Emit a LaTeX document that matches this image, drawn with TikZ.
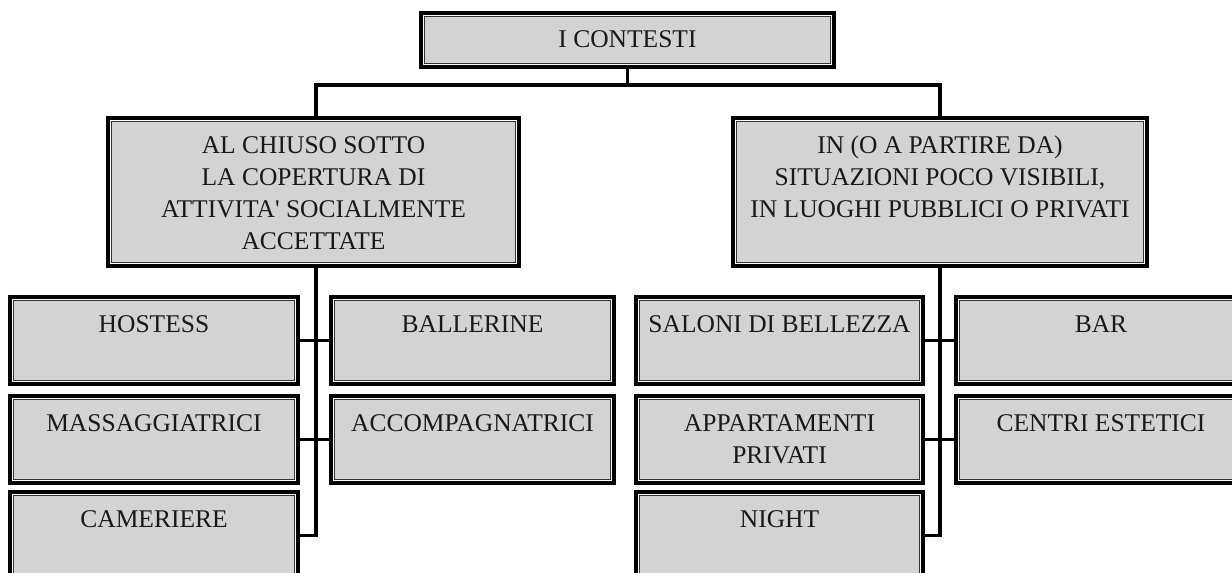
\documentclass[tikz,border=0pt]{standalone}
\usepackage{fontspec}
\setmainfont{Liberation Serif}
\definecolor{boxgray}{RGB}{211,211,211}
\newcommand{\bt}[3]{\parbox[c][#2][t]{#1}{\centering\rule{0pt}{17.5pt}#3\par}}
\tikzset{
  cbox/.style={draw=black, line width=1.75pt, fill=white, inner sep=0pt, outer sep=0pt,
    anchor=north west, font=\fontsize{12.75pt}{16pt}\selectfont, text=black!90,
    path picture={\draw[line width=0.5pt, draw=black!80, fill=boxgray]
      ([shift={(1.875pt,1.875pt)}]path picture bounding box.south west) rectangle
      ([shift={(-1.875pt,-1.875pt)}]path picture bounding box.north east);}},
  conn/.style={line width=1.6pt, line join=miter, draw=black}
}
\begin{document}
\begin{tikzpicture}[x=0.5pt, y=-0.5pt]
\useasboundingbox (0,0) rectangle (1232,573);
\clip (0,0) rectangle (1232,573);
% level 0
\node[cbox] (top) at (421,13) {\bt{206.5pt}{27pt}{I CONTESTI}};
% level 1
\node[cbox] (lmid) at (108,118) {\bt{205.5pt}{74pt}{AL CHIUSO SOTTO\\LA COPERTURA DI\\ATTIVITA\textquotesingle{} SOCIALMENTE\\ACCETTATE}};
\node[cbox] (rmid) at (733,118) {\bt{207pt}{74pt}{IN (O A PARTIRE DA)\\SITUAZIONI POCO VISIBILI,\\IN LUOGHI PUBBLICI O PRIVATI}};
% level 2 left
\node[cbox] (hostess) at (10,297) {\bt{144pt}{43.5pt}{HOSTESS}};
\node[cbox] (ballerine) at (331,297) {\bt{141.5pt}{43.5pt}{BALLERINE}};
\node[cbox] (massagg) at (10,396) {\bt{144pt}{43.5pt}{MASSAGGIATRICI}};
\node[cbox] (accomp) at (331,396) {\bt{141.5pt}{43.5pt}{ACCOMPAGNATRICI}};
\node[cbox] (cameriere) at (10,492) {\bt{144pt}{43.5pt}{CAMERIERE}};
% level 2 right
\node[cbox] (saloni) at (636,297) {\bt{143.5pt}{43.5pt}{SALONI DI BELLEZZA}};
\node[cbox] (bar) at (956,297) {\bt{145pt}{43.5pt}{BAR}};
\node[cbox] (appart) at (636,396) {\bt{143.5pt}{43.5pt}{APPARTAMENTI\\PRIVATI}};
\node[cbox] (centri) at (956,396) {\bt{145pt}{43.5pt}{CENTRI ESTETICI}};
\node[cbox] (night) at (636,492) {\bt{143.5pt}{43.5pt}{NIGHT}};
% connectors
\draw[conn] (top.south) -- ++(0,18) coordinate (tj);
\draw[conn] (tj) -| ([xshift=1.25pt]lmid.north);
\draw[conn] (tj) -| (rmid.north);
\draw[conn] ([xshift=1.25pt]lmid.south) |- (cameriere.east);
\draw[conn] (hostess.east) -- (ballerine.west);
\draw[conn] (massagg.east) -- (accomp.west);
\draw[conn] (rmid.south) |- (night.east);
\draw[conn] (saloni.east) -- (bar.west);
\draw[conn] (appart.east) -- (centri.west);
\end{tikzpicture}
\end{document}
